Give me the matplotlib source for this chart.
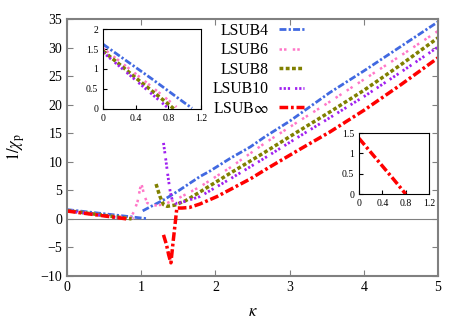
import numpy as np
import matplotlib
matplotlib.use('Agg')
from matplotlib import pyplot as plt

plt.rcParams['font.family'] = ['Liberation Serif', 'DejaVu Serif']
plt.rcParams['mathtext.fontset'] = 'stix'

# first branches (1/chi_p falling to zero)
k4a = [0, 0.2, 0.4, 0.6, 0.8, 1.0, 1.09]
y4a = [1.62, 1.33, 1.04, 0.75, 0.45, 0.15, 0.02]
k6a = [0, 0.2, 0.4, 0.6, 0.8, 0.9]
y6a = [1.52, 1.20, 0.88, 0.55, 0.22, 0.05]
k8a = [0, 0.2, 0.4, 0.6, 0.8, 0.87]
y8a = [1.45, 1.12, 0.78, 0.45, 0.12, 0.0]
k10a = [0, 0.2, 0.4, 0.6, 0.8]
y10a = [1.42, 1.07, 0.72, 0.37, 0.02]
kinfa = [0, 0.2, 0.4, 0.6, 0.8]
yinfa = [1.37, 1.03, 0.69, 0.35, 0.0]

# second branches
k4b = [1.02, 1.12, 1.3, 1.5, 1.79, 1.93, 2.2, 2.47, 2.67, 3.0, 3.54, 4.0, 4.5, 5.0]
y4b = [1.4, 2.1, 3.3, 4.9, 7.4, 8.4, 10.6, 12.6, 14.4, 17.1, 22.1, 25.9, 30.2, 34.5]
k6b = [0.85, 0.9, 0.95, 1.0, 1.04, 1.08, 1.15, 1.3, 1.5, 1.79, 2.2, 2.67, 3.1, 3.54, 4.0, 4.5, 5.0]
y6b = [0.1, 1.2, 3.0, 6.3, 4.2, 2.8, 2.3, 2.5, 3.6, 5.6, 9.0, 13.3, 16.9, 20.5, 24.4, 28.6, 32.9]
k8b = [1.2, 1.25, 1.3, 1.35, 1.45, 1.6, 1.79, 2.2, 2.67, 3.1, 3.54, 4.0, 4.5, 5.0]
y8b = [6.1, 4.0, 2.5, 2.2, 2.4, 3.2, 4.7, 8.0, 11.7, 15.2, 18.7, 22.5, 27.0, 31.7]
k10b = [1.3, 1.33, 1.36, 1.39, 1.42, 1.46, 1.55, 1.79, 2.2, 2.67, 3.1, 3.54, 4.0, 4.5, 5.0]
y10b = [13.3, 10.5, 7.5, 4.8, 3.2, 2.7, 2.9, 3.9, 7.0, 10.7, 14.2, 17.7, 21.4, 25.7, 30.1]
kinfb = [1.3, 1.34, 1.37, 1.40, 1.43, 1.46, 1.48, 1.55, 1.65, 1.79, 2.02, 2.47, 2.67, 3.1, 3.54, 4.0, 4.5, 5.0]
yinfb = [-2.8, -4.5, -6.3, -7.7, -4.0, -0.5, 1.9, 1.9, 2.0, 2.6, 3.9, 7.0, 8.6, 11.9, 15.2, 19.0, 23.5, 28.2]

labels = ['LSUB4', 'LSUB6', 'LSUB8', 'LSUB10', r'LSUB$\infty$']
styles = [
    dict(color='#4169e1', lw=2.0, dashes=(2.5, 0.8, 0.8, 0.8)),
    dict(color='#ff77c8', lw=1.8, dashes=(1, 0.8, 1, 2.5)),
    dict(color='#808000', lw=2.5, dashes=(1.1, 0.7)),
    dict(color='#a020f0', lw=2.0, dashes=(0.8, 0.7, 0.8, 0.7, 0.8, 1.8)),
    dict(color='#ff0000', lw=2.5, dashes=(2.5, 0.8, 0.8, 0.8)),
]
first = [(k4a, y4a), (k6a, y6a), (k8a, y8a), (k10a, y10a), (kinfa, yinfa)]
second = [(k4b, y4b), (k6b, y6b), (k8b, y8b), (k10b, y10b), (kinfb, yinfb)]

fig = plt.figure(figsize=(4.67, 3.27), dpi=100)
ax = fig.add_axes([0.1435, 0.156, 0.7945, 0.786])
ax.axhline(0, color='gray', lw=0.8)
for (ka, ya), (kb, yb), st, lab in zip(first, second, styles, labels):
    ax.plot(ka, ya, label=lab, **st)
    ax.plot(kb, yb, **st)
ax.set_xlim(0, 5)
ax.set_ylim(-10, 35)
ax.set_xticks(range(0, 6))
ax.set_yticks(range(-10, 36, 5))
ax.tick_params(direction='in', top=True, right=True, labelsize=10, color='gray', length=4)
for s in ax.spines.values():
    s.set_color('gray')
    s.set_linewidth(1.5)
ax.set_xlabel(r'$\kappa$', fontsize=12, labelpad=7)
ax.set_ylabel(r'$1/\chi_{\rm p}$', fontsize=12, labelpad=10)
ax.legend(loc='upper right', bbox_to_anchor=(0.64, 0.985), frameon=False, markerfirst=False,
          handlelength=1.6, handletextpad=0.7, labelspacing=0.22, borderpad=0, borderaxespad=0,
          fontsize=11.3)

# inset 1: LSUB4..10 near kappa=0
ax1 = fig.add_axes([0.2206, 0.6667, 0.2099, 0.2446])
for (ka, ya), st in zip(first[:4], styles[:4]):
    ax1.plot(ka, ya, **st)
ax1.set_xlim(0, 1.2)
ax1.set_ylim(0, 2)
ax1.set_xticks([0, 0.4, 0.8, 1.2])
ax1.set_xticklabels(['0', '0.4', '0.8', '1.2'])
ax1.set_yticks([0, 0.5, 1, 1.5, 2])
ax1.set_yticklabels(['0', '0.5', '1', '1.5', '2'])
ax1.tick_params(direction='in', labelsize=7, length=3)

# inset 2: LSUB infinity
ax2 = fig.add_axes([0.7687, 0.4067, 0.1499, 0.1865])
ax2.plot(kinfa, yinfa, **styles[4])
ax2.set_xlim(0, 1.2)
ax2.set_ylim(0, 1.5)
ax2.set_xticks([0, 0.4, 0.8, 1.2])
ax2.set_xticklabels(['0', '0.4', '0.8', '1.2'])
ax2.set_yticks([0, 0.5, 1, 1.5])
ax2.set_yticklabels(['0', '0.5', '1', '1.5'])
ax2.tick_params(direction='in', labelsize=7, length=3)

fig.savefig('out.png', dpi=100)
